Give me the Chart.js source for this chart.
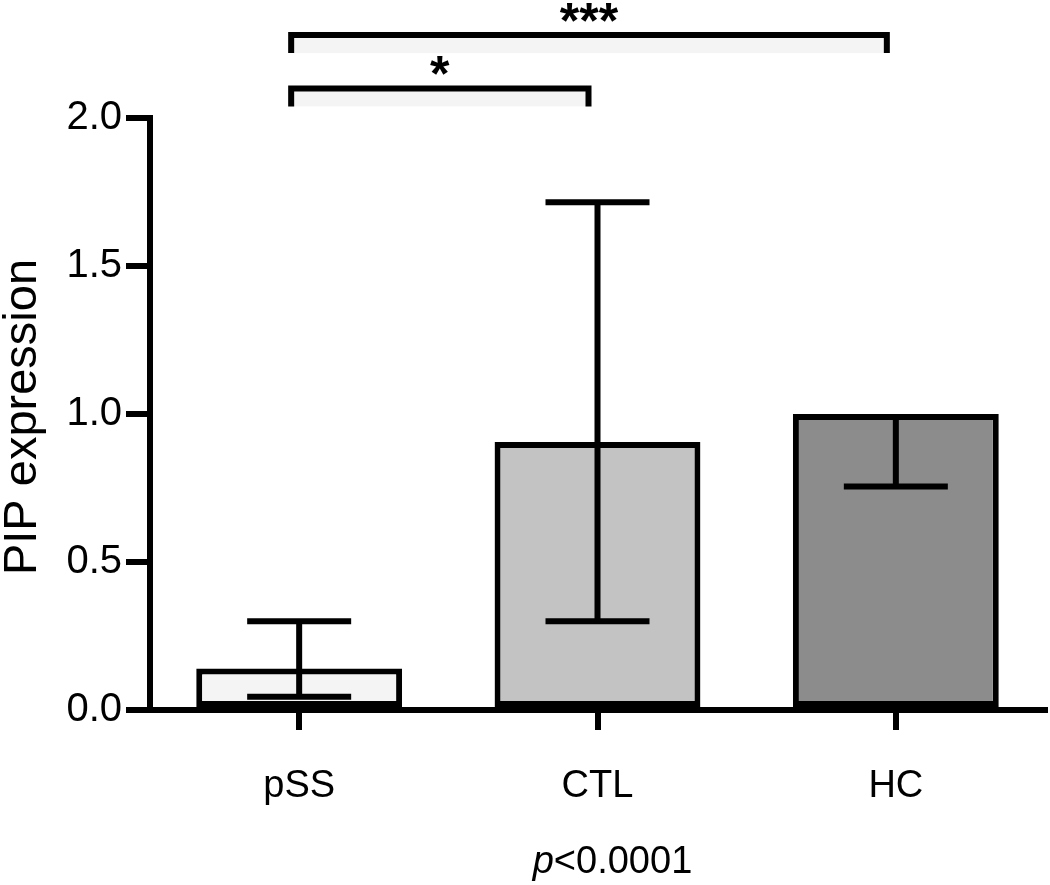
<!DOCTYPE html>
<html>
<head>
<meta charset="utf-8">
<script src="https://cdn.jsdelivr.net/npm/chart.js@4.4.1/dist/chart.umd.min.js"></script>
<style>
  html, body { margin: 0; padding: 0; background: #fff; }
  #wrap { width: 1050px; height: 885px; position: relative; }
</style>
</head>
<body>
<div id="wrap"><canvas id="c"></canvas></div>
<script>
const categories = ['pSS', 'CTL', 'HC'];
const values = [0.14, 0.905, 1.0];
const errLow = [0.045, 0.30, 0.755];
const errHigh = [0.30, 1.715, 1.0];
const barColors = ['#f4f4f4', '#c3c3c3', '#8c8c8c'];
const yTicks = [0, 0.5, 1.0, 1.5, 2.0];
// significance brackets: [from index, to index, level (y value), label]
const brackets = [
  [0, 1, 2.10, '*'],
  [0, 2, 2.28, '***']
];
const yTitle = 'PIP expression';
const pText = ['p', '<0.0001'];

const INK = '#000';
const FONT = "'Liberation Sans', Arial, sans-serif";

const extras = {
  id: 'extras',
  afterDatasetsDraw(chart) {
    const { ctx } = chart;
    const x = chart.scales.x, y = chart.scales.y;
    ctx.save();
    ctx.strokeStyle = INK;
    ctx.lineWidth = 6;
    ctx.lineCap = 'butt';
    // error bars
    values.forEach((v, i) => {
      const cx = x.getPixelForValue(i);
      const half = 52;
      const yl = y.getPixelForValue(errLow[i]);
      const yh = y.getPixelForValue(errHigh[i]);
      ctx.beginPath();
      ctx.moveTo(cx, yl); ctx.lineTo(cx, yh);
      ctx.moveTo(cx - half, yl); ctx.lineTo(cx + half, yl);
      if (errHigh[i] > v) { ctx.moveTo(cx - half, yh); ctx.lineTo(cx + half, yh); }
      ctx.stroke();
    });
    // brackets
    brackets.forEach(([a, b, lvl, lab]) => {
      const x1 = x.getPixelForValue(a) - 8;
      const x2 = x.getPixelForValue(b) - 9;
      const yy = y.getPixelForValue(lvl);
      const leg = 18;
      ctx.fillStyle = '#f4f4f4';
      ctx.fillRect(x1, yy + 3, x2 - x1, leg - 3);
      ctx.beginPath();
      ctx.moveTo(x1, yy + leg); ctx.lineTo(x1, yy); ctx.lineTo(x2, yy); ctx.lineTo(x2, yy + leg);
      ctx.stroke();
      ctx.fillStyle = INK;
      ctx.font = 'bold 50px ' + FONT;
      ctx.textAlign = 'center';
      ctx.textBaseline = 'alphabetic';
      ctx.fillText(lab, (x1 + x2) / 2, yy + 3);
    });
    // y axis title
    ctx.fillStyle = INK;
    ctx.save();
    ctx.translate(36, (y.top + y.bottom) / 2 + 3);
    ctx.rotate(-Math.PI / 2);
    ctx.font = '47px ' + FONT;
    ctx.textAlign = 'center';
    ctx.textBaseline = 'alphabetic';
    ctx.fillText(yTitle, 0, 0);
    ctx.restore();
    // p-value note under the axis
    const midX = (x.left + x.right) / 2 + 15;
    ctx.font = 'italic 38px ' + FONT;
    const w1 = ctx.measureText(pText[0]).width;
    ctx.font = '38px ' + FONT;
    const w2 = ctx.measureText(pText[1]).width;
    const sx = midX - (w1 + w2) / 2;
    ctx.textAlign = 'left';
    ctx.textBaseline = 'alphabetic';
    ctx.font = 'italic 38px ' + FONT;
    ctx.fillText(pText[0], sx, 873);
    ctx.font = '38px ' + FONT;
    ctx.fillText(pText[1], sx + w1, 873);
    ctx.restore();
  }
};

new Chart(document.getElementById('c'), {
  type: 'bar',
  data: {
    labels: categories,
    datasets: [{
      data: values,
      backgroundColor: barColors,
      borderColor: INK,
      borderWidth: 6,
      borderSkipped: false,
      barPercentage: 0.69,
      categoryPercentage: 1.0
    }]
  },
  options: {
    responsive: true, maintainAspectRatio: false,
    animation: false,
    devicePixelRatio: 1,
    layout: { padding: { top: 118, right: 5, left: 0, bottom: 0 } },
    plugins: { legend: { display: false }, tooltip: { enabled: false } },
    scales: {
      x: {
        afterFit: s => { s.height = 175; },
        grid: { offset: false, drawOnChartArea: false, drawTicks: true, tickLength: 20, lineWidth: 6, color: INK },
        border: { display: true, width: 6, color: INK },
        ticks: { font: { family: FONT, size: 38 }, color: INK, padding: 34 }
      },
      y: {
        min: 0, max: 2,
        afterFit: s => { s.width = 150; },
        afterBuildTicks: s => { s.ticks = yTicks.map(v => ({ value: v })); },
        grid: { drawOnChartArea: false, drawTicks: true, tickLength: 24, lineWidth: 6, color: INK },
        border: { display: true, width: 6, color: INK },
        ticks: { font: { family: FONT, size: 40 }, color: INK, padding: 4, callback: v => v.toFixed(1) }
      }
    }
  },
  plugins: [extras]
});
</script>
</body>
</html>
